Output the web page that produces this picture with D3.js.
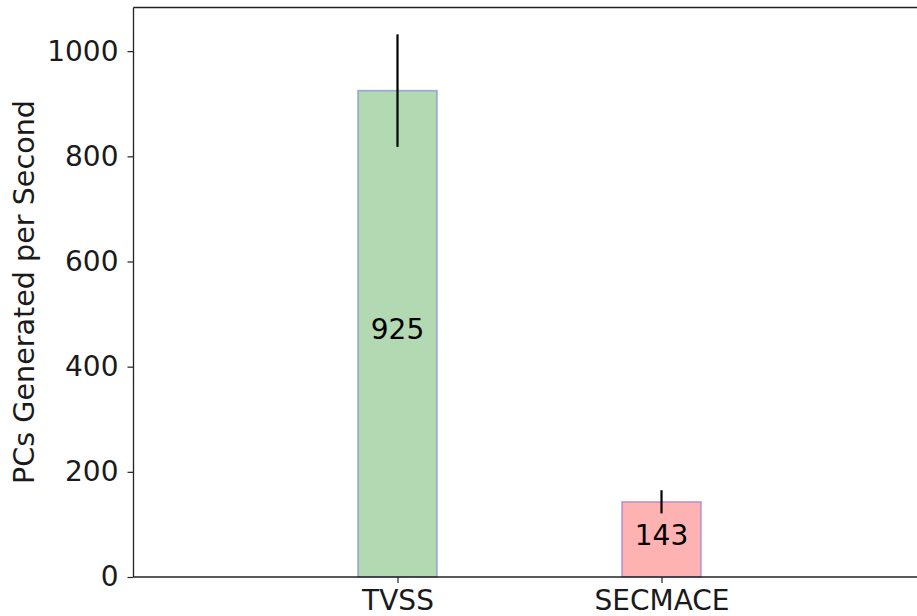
<!DOCTYPE html>
<html>
<head>
<meta charset="utf-8">
<script src="https://cdn.jsdelivr.net/npm/d3@7"></script>
<style>
  body { margin: 0; background: #fff; }
  svg { display: block; font-family: "DejaVu Sans", sans-serif; }
</style>
</head>
<body>
<svg id="chart" width="917" height="616"></svg>
<script>
// Throughput per scheme, with error bar half-widths
const categories = ["TVSS", "SECMACE"];
const values = [925, 143];
const errors = [107, 22];
const fills = ["green", "red"];
const yTicks = [0, 200, 400, 600, 800, 1000];

const FONT = 28;
const svg = d3.select("#chart");
const plotLeft = 133.5, plotTop = 7.5, plotBottom = 577;
const unit = 264; // pixels per category step

// Positions of categories are 0, 1 on a continuous axis spanning [-1, 2]
const x = d3.scaleLinear().domain([-1, 2]).range([plotLeft, plotLeft + 3 * unit]);
const y = d3.scaleLinear().domain([0, 1083]).range([plotBottom, plotTop]);
const barW = 0.3;

const g = svg.append("g");

// Bars
g.selectAll("rect.bar")
  .data(values)
  .join("rect")
  .attr("class", "bar")
  .attr("x", (d, i) => x(i - barW / 2))
  .attr("width", x(barW) - x(0))
  .attr("y", d => y(d))
  .attr("height", d => y(0) - y(d))
  .attr("fill", (d, i) => fills[i])
  .attr("fill-opacity", 0.3)
  .attr("stroke", "blue")
  .attr("stroke-opacity", 0.3)
  .attr("stroke-width", 1.5);

// Error bars
g.selectAll("line.err")
  .data(values)
  .join("line")
  .attr("class", "err")
  .attr("x1", (d, i) => x(i))
  .attr("x2", (d, i) => x(i))
  .attr("y1", (d, i) => y(d + errors[i]))
  .attr("y2", (d, i) => y(d - errors[i]))
  .attr("stroke", "#000")
  .attr("stroke-width", 2.2);

// Value labels centred in each bar
g.selectAll("text.val")
  .data(values)
  .join("text")
  .attr("class", "val")
  .attr("x", (d, i) => x(i))
  .attr("y", d => y(d / 2))
  .attr("dy", "0.2em")
  .attr("text-anchor", "middle")
  .attr("font-size", FONT)
  .attr("fill", "#000")
  .text(d => d);

// Axes
const yAxis = d3.axisLeft(y).tickValues(yTicks).tickFormat(d3.format("d")).tickSize(6).tickPadding(9);
const ya = svg.append("g").attr("transform", `translate(${plotLeft},0)`).call(yAxis);
ya.select(".domain").remove();
ya.selectAll("text").attr("font-size", FONT).attr("fill", "#1a1a1a").attr("font-family", "DejaVu Sans");
ya.selectAll("line").attr("stroke", "#222").attr("stroke-width", 1.2);

const xAxis = d3.axisBottom(x).tickValues([0, 1]).tickFormat((d) => categories[d]).tickSize(6).tickPadding(7);
const xa = svg.append("g").attr("transform", `translate(0,${plotBottom})`).call(xAxis);
xa.select(".domain").remove();
xa.selectAll("text").attr("font-size", FONT).attr("fill", "#1a1a1a").attr("font-family", "DejaVu Sans");
xa.selectAll("line").attr("stroke", "#222").attr("stroke-width", 1.2);

// Spines: left, top, bottom (right edge lies beyond the canvas)
svg.append("line").attr("x1", plotLeft).attr("x2", plotLeft).attr("y1", plotTop).attr("y2", plotBottom)
  .attr("stroke", "#222").attr("stroke-width", 1.3);
svg.append("line").attr("x1", plotLeft).attr("x2", 917).attr("y1", plotTop).attr("y2", plotTop)
  .attr("stroke", "#222").attr("stroke-width", 1.3);
svg.append("line").attr("x1", plotLeft).attr("x2", 917).attr("y1", plotBottom).attr("y2", plotBottom)
  .attr("stroke", "#222").attr("stroke-width", 1.3);

// Y-axis title
svg.append("text")
  .attr("transform", `translate(34,292) rotate(-90)`)
  .attr("text-anchor", "middle")
  .attr("font-size", 28.6)
  .attr("fill", "#1a1a1a")
  .text("PCs Generated per Second");
</script>
</body>
</html>
